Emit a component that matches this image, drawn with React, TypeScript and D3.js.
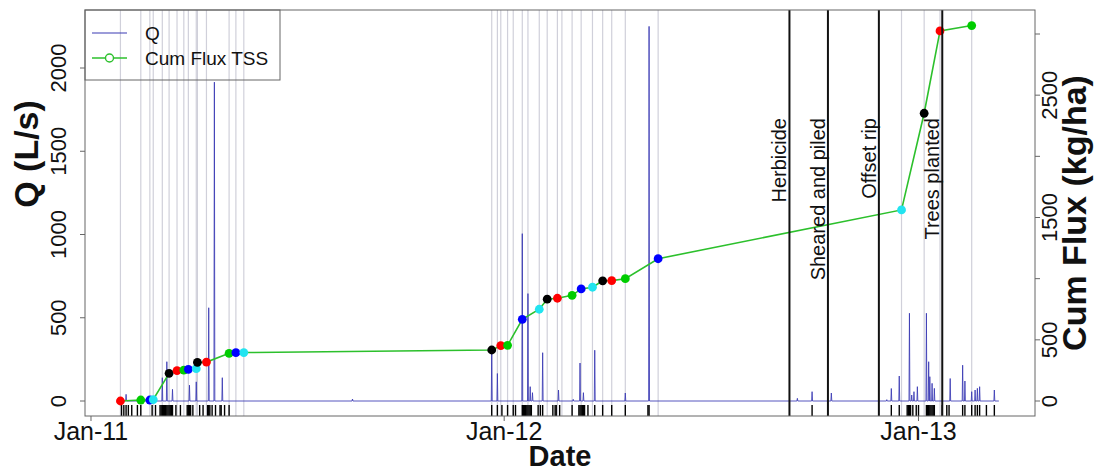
import React from "react";
import * as d3 from "d3";

// ---------------- data ----------------
const fluxDates = [
  "2011-01-27", "2011-02-14", "2011-02-22", "2011-02-25", "2011-03-11", "2011-03-18", "2011-03-24",
  "2011-03-28", "2011-04-04", "2011-04-05", "2011-04-13", "2011-05-03", "2011-05-09", "2011-05-16",
  "2011-12-21", "2011-12-29", "2012-01-04", "2012-01-17", "2012-02-01", "2012-02-08", "2012-02-17",
  "2012-03-01", "2012-03-09", "2012-03-19", "2012-03-28", "2012-04-05", "2012-04-17", "2012-05-16",
  "2012-12-17", "2013-01-06", "2013-01-20", "2013-02-17",
];
const fluxValues = [
  0, 8, 8, 12, 226, 248, 253, 259, 264, 316, 318, 390, 395, 396,
  417, 452, 455, 668, 750, 832, 840, 864, 916, 930, 982, 984, 1000, 1163,
  1562, 2352, 3025, 3069,
];
const pointColors = ["#FF0000", "#00CD00", "#0000FF", "#22E4F0", "#000000"];

const qStartDate = "2011-01-27";
const qEndDate = "2013-03-13";
const qSpikeDates = [
  "2011-02-01", "2011-03-05", "2011-03-09", "2011-03-14", "2011-03-29", "2011-04-04", "2011-04-15",
  "2011-04-20", "2011-04-27", "2011-08-20", "2011-12-21", "2011-12-26", "2012-01-17", "2012-01-22",
  "2012-01-24", "2012-01-26", "2012-02-04", "2012-02-18", "2012-03-02", "2012-03-08", "2012-03-11",
  "2012-03-21", "2012-04-17", "2012-05-08", "2012-09-16", "2012-09-29", "2012-10-16", "2012-12-04",
  "2012-12-08", "2012-12-15", "2012-12-24", "2012-12-26", "2012-12-28", "2012-12-31", "2013-01-08",
  "2013-01-10", "2013-01-11", "2013-01-13", "2013-01-15", "2013-01-29", "2013-02-09", "2013-02-11",
  "2013-02-17", "2013-02-20", "2013-02-22", "2013-02-24", "2013-03-09",
];
const qSpikeValues = [
  40, 140, 236, 70, 95, 115, 560, 1915, 140, 12, 300, 165, 1005, 645,
  86, 50, 290, 66, 10, 228, 50, 305, 48, 2250, 16, 56, 48, 8,
  75, 150, 527, 36, 56, 86, 527, 236, 146, 106, 76, 135, 215, 120,
  56, 66, 76, 86, 66,
];

const extraGrayDates = ["2011-03-05", "2011-12-26", "2012-01-09", "2012-01-22", "2012-02-21"];

const rugDates = [
  "2011-01-28", "2011-01-30", "2011-02-01", "2011-02-03", "2011-02-06", "2011-02-11", "2011-02-14",
  "2011-02-24", "2011-02-27", "2011-03-03", "2011-03-04", "2011-03-05", "2011-03-06", "2011-03-07",
  "2011-03-08", "2011-03-09", "2011-03-10", "2011-03-11", "2011-03-12", "2011-03-13", "2011-03-14",
  "2011-03-17", "2011-03-21", "2011-03-27", "2011-03-28", "2011-03-29", "2011-03-30", "2011-04-01",
  "2011-04-07", "2011-04-10", "2011-04-14", "2011-04-15", "2011-04-16", "2011-04-18", "2011-04-21",
  "2011-04-25", "2011-04-26", "2011-04-29", "2011-05-03",
  "2011-12-21", "2011-12-26", "2011-12-30", "2012-01-04", "2012-01-09", "2012-01-11", "2012-01-17",
  "2012-01-18", "2012-01-19", "2012-01-20", "2012-01-21", "2012-01-22", "2012-01-23", "2012-01-24",
  "2012-01-25", "2012-01-31", "2012-02-02", "2012-02-04", "2012-02-13", "2012-02-15", "2012-02-16",
  "2012-02-19", "2012-03-01", "2012-03-07", "2012-03-08", "2012-03-09", "2012-03-10", "2012-03-11",
  "2012-03-12", "2012-03-15", "2012-03-21", "2012-03-28", "2012-04-05", "2012-04-17", "2012-05-07",
  "2012-05-08",
  "2012-09-29", "2012-12-08", "2012-12-15", "2012-12-22", "2012-12-23", "2012-12-24", "2012-12-25",
  "2012-12-27", "2012-12-30", "2013-01-01", "2013-01-08", "2013-01-09", "2013-01-10", "2013-01-11",
  "2013-01-12", "2013-01-13", "2013-01-14", "2013-01-15", "2013-01-22", "2013-01-26", "2013-01-28",
  "2013-02-09", "2013-02-11", "2013-02-17", "2013-02-20", "2013-02-22", "2013-02-24", "2013-03-02",
  "2013-03-09",
];

const eventDates = ["2012-09-09", "2012-10-13", "2012-11-27", "2013-01-22"];
const eventLabels = ["Herbicide", "Sheared and piled", "Offset rip", "Trees planted"];

const xTickDates = ["2011-01-01", "2012-01-01", "2013-01-01"];
const leftTicks = [0, 500, 1000, 1500, 2000];
const rightTicks = [0, 500, 1000, 1500, 2000, 2500, 3000];
const rightTickLabels = [0, 500, 1500, 2500];

const legendLabels = ["Q", "Cum Flux TSS"];

// ---------------- layout ----------------
const W = 1097;
const H = 472;
const L = 85, R = 1035, T = 10, B = 416;
const FONT = "'Liberation Sans', Arial, Helvetica, sans-serif";
const parse = d3.timeParse("%Y-%m-%d");

export default function App() {
  const x = d3
    .scaleTime()
    .domain([new Date(2010, 11, 26, 17), new Date(2013, 3, 13, 22)])
    .range([L, R]);
  const yQ = d3.scaleLinear().domain([0, 2000]).range([401, 68]);
  const yF = d3.scaleLinear().domain([0, 3000]).range([401, 34]);

  const flux = fluxDates.map((d, i) => ({ date: parse(d)!, v: fluxValues[i], i }));
  const dayMs = 86400000;
  const half = 0.4 * dayMs;

  const qPts: { t: number; v: number }[] = [{ t: parse(qStartDate)!.getTime(), v: 0 }];
  qSpikeDates
    .map((d, i) => ({ t: parse(d)!.getTime(), v: qSpikeValues[i] }))
    .sort((a, b) => a.t - b.t)
    .forEach((s) => {
      qPts.push({ t: s.t - half, v: 0 });
      qPts.push({ t: s.t, v: s.v });
      qPts.push({ t: s.t + half, v: 0 });
    });
  qPts.push({ t: parse(qEndDate)!.getTime(), v: 0 });

  const qLine = d3
    .line<{ t: number; v: number }>()
    .x((p) => x(new Date(p.t)))
    .y((p) => yQ(p.v));
  const fLine = d3
    .line<{ date: Date; v: number }>()
    .x((p) => x(p.date))
    .y((p) => yF(p.v));

  const grayDates = [...fluxDates, ...extraGrayDates].map((d) => parse(d)!);
  const fmt = d3.timeFormat("%b-%y");

  return (
    <svg
      width={W}
      height={H}
      style={{ position: "absolute", left: 0, top: 0, background: "#fff" }}
      fontFamily={FONT}
    >
      <rect x={0} y={0} width={W} height={H} fill="#fff" />
      {/* gray sample lines */}
      {grayDates.map((d, i) => (
        <line key={"g" + i} x1={x(d)} x2={x(d)} y1={T} y2={B} stroke="#d0d0da" strokeWidth={1.2} />
      ))}
      {/* Q hydrograph */}
      <path d={qLine(qPts) || ""} fill="none" stroke="#3a3ab4" strokeOpacity={0.85} strokeWidth={1} />
      {/* rug */}
      {rugDates.map((d, i) => {
        const xx = x(parse(d)!);
        return <line key={"r" + i} x1={xx} x2={xx} y1={405} y2={B} stroke="#000" strokeWidth={1.4} />;
      })}
      {/* cumulative flux */}
      <path d={fLine(flux) || ""} fill="none" stroke="#2cc02c" strokeWidth={1.6} />
      {flux.map((p) => (
        <circle key={"p" + p.i} cx={x(p.date)} cy={yF(p.v)} r={4.4} fill={pointColors[p.i % 5]} />
      ))}
      {/* events */}
      {eventDates.map((d, i) => {
        const xx = x(parse(d)!);
        return (
          <g key={"e" + i}>
            <line x1={xx} x2={xx} y1={T} y2={B} stroke="#111" strokeWidth={2} />
            <text
              transform={`translate(${xx - 3},118) rotate(-90)`}
              textAnchor="end"
              fontSize={20}
              fill="#111"
            >
              {eventLabels[i]}
            </text>
          </g>
        );
      })}
      {/* box */}
      <rect x={L} y={T} width={R - L} height={B - T} fill="none" stroke="#666" strokeWidth={1} />
      {/* legend */}
      <rect x={L} y={T} width={195} height={70} fill="none" stroke="#666" strokeWidth={1} />
      <line x1={92} x2={127} y1={33} y2={33} stroke="#3a3ab4" strokeWidth={1.2} />
      <line x1={92} x2={127} y1={58} y2={58} stroke="#2cc02c" strokeWidth={1.6} />
      <circle cx={109.5} cy={58} r={4} fill="#fff" stroke="#2cc02c" strokeWidth={1.4} />
      <text x={145} y={40} fontSize={19} fill="#111">{legendLabels[0]}</text>
      <text x={145} y={65} fontSize={19} fill="#111">{legendLabels[1]}</text>
      {/* left axis */}
      {leftTicks.map((v) => (
        <g key={"lt" + v}>
          <line x1={L - 5} x2={L} y1={yQ(v)} y2={yQ(v)} stroke="#666" />
          <text
            transform={`translate(${66},${yQ(v)}) rotate(-90)`}
            textAnchor="middle"
            fontSize={22}
            fill="#111"
          >
            {v}
          </text>
        </g>
      ))}
      <text
        transform={`translate(${38},${154}) rotate(-90)`}
        textAnchor="middle"
        fontSize={34}
        fontWeight="bold"
        fill="#111"
      >
        Q (L/s)
      </text>
      {/* right axis */}
      {rightTicks.map((v) => (
        <line key={"rt" + v} x1={R} x2={R + 5} y1={yF(v)} y2={yF(v)} stroke="#666" />
      ))}
      {rightTickLabels.map((v) => (
        <text
          key={"rl" + v}
          transform={`translate(${1057},${yF(v)}) rotate(-90)`}
          textAnchor="middle"
          fontSize={22}
          fill="#111"
        >
          {v}
        </text>
      ))}
      <text
        transform={`translate(${1086},${213}) rotate(-90)`}
        textAnchor="middle"
        fontSize={34}
        fontWeight="bold"
        fill="#111"
      >
        Cum Flux (kg/ha)
      </text>
      {/* bottom axis */}
      {xTickDates.map((d) => {
        const xx = x(parse(d)!);
        return (
          <g key={"xt" + d}>
            <line x1={xx} x2={xx} y1={B} y2={B + 5} stroke="#666" />
            <text x={xx} y={440} textAnchor="middle" fontSize={25} fill="#111">
              {fmt(parse(d)!)}
            </text>
          </g>
        );
      })}
      <text x={(L + R) / 2} y={466} textAnchor="middle" fontSize={29} fontWeight="bold" fill="#111">
        Date
      </text>
    </svg>
  );
}
